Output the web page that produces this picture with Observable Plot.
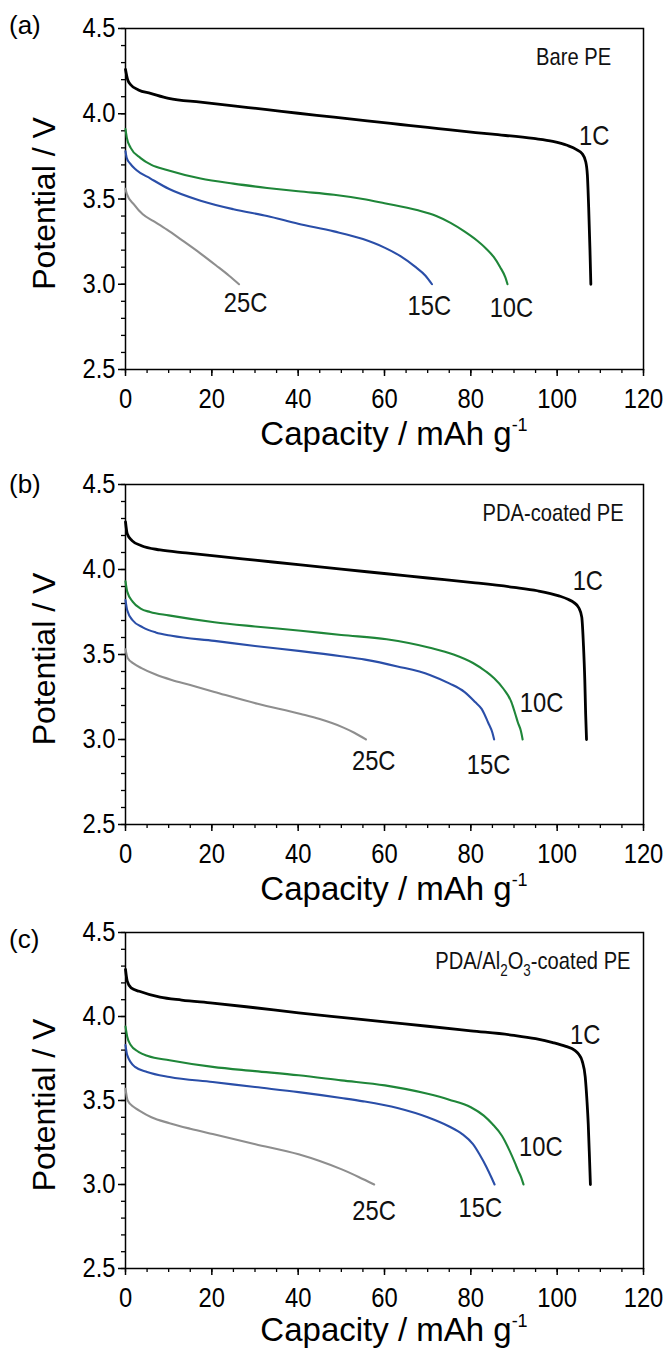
<!DOCTYPE html>
<html><head><meta charset="utf-8">
<script src="https://cdn.jsdelivr.net/npm/d3@7"></script>
<script src="https://cdn.jsdelivr.net/npm/@observablehq/plot@0.6"></script>
<style>
body{margin:0;background:#fff;}
#root{position:relative;width:671px;height:1349px;overflow:hidden;background:#fff;}
.panel{position:absolute;left:0;}
</style></head><body><div id="root"></div>
<script>
// ---- data (capacity mAh/g, potential V) ----
const rates = ["1C", "10C", "15C", "25C"];
const rateColors = ["#000000", "#1f8639", "#2a4ea8", "#8e8e8e"];
const xTicks = [0, 20, 40, 60, 80, 100, 120];
const yTicks = [2.5, 3.0, 3.5, 4.0, 4.5];

const bare1C = [[0,4.26],[0.5,4.2],[1.2,4.17],[3,4.14],[5.8,4.12],[10,4.09],[17.4,4.068],[25,4.046],[32.8,4.024],[40,4.003],[48.3,3.98],[56,3.958],[63.7,3.937],[70,3.92],[75.3,3.905],[85,3.88],[94.5,3.855],[99,3.838],[102.3,3.815],[104.5,3.79],[105.8,3.765],[106.6,3.72],[107,3.64],[107.3,3.45],[107.6,3.2],[107.8,3.0]];
const bare10C = [[0,3.91],[0.3,3.86],[1.2,3.8],[3.5,3.74],[6,3.7],[9.6,3.67],[17.4,3.62],[25,3.59],[32.8,3.565],[40,3.545],[48.3,3.525],[55,3.5],[60,3.475],[67.5,3.435],[72,3.4],[75.3,3.36],[78.5,3.31],[81.5,3.255],[83.5,3.21],[85.3,3.16],[86.8,3.1],[88,3.04],[88.5,3.0]];
const bare15C = [[0,3.78],[0.3,3.74],[1,3.71],[2.5,3.67],[5.8,3.62],[10,3.56],[17.4,3.49],[25,3.44],[32.8,3.4],[40,3.355],[48.3,3.31],[55,3.265],[60,3.215],[63.7,3.165],[67,3.105],[69.5,3.05],[71,3.0]];
const bare25C = [[0,3.56],[0.3,3.53],[1.9,3.47],[4,3.41],[6.5,3.37],[9.6,3.32],[13,3.26],[17.4,3.18],[21,3.11],[24,3.05],[26.3,3.0]];

const pda1C = [[0,4.28],[0.4,4.21],[1.5,4.17],[3.7,4.14],[8,4.115],[14,4.098],[20.6,4.08],[30,4.055],[40.6,4.027],[50,4.002],[60.5,3.975],[70,3.95],[80.5,3.923],[90,3.895],[95.4,3.875],[100.4,3.845],[102.5,3.825],[103.9,3.805],[105,3.775],[105.7,3.72],[106.1,3.55],[106.4,3.35],[106.6,3.15],[106.8,3.0]];
const pda10C = [[0,3.93],[0.4,3.87],[1.7,3.81],[3.5,3.77],[5.7,3.75],[10,3.73],[20.6,3.69],[30,3.665],[40.6,3.64],[50,3.615],[60.5,3.59],[70.5,3.54],[76,3.5],[80.5,3.45],[83.5,3.4],[85.4,3.36],[87.5,3.3],[89.4,3.22],[90.3,3.15],[90.9,3.1],[91.6,3.05],[92,3.0]];
const pda15C = [[0,3.82],[0.4,3.76],[1.7,3.7],[4,3.66],[7,3.63],[10.7,3.61],[20.6,3.58],[30,3.55],[40.6,3.52],[50,3.49],[55.5,3.47],[63,3.43],[70.5,3.38],[75,3.33],[78.5,3.28],[81,3.22],[82.5,3.18],[84,3.1],[85,3.04],[85.4,3.0]];
const pda25C = [[0,3.53],[0.5,3.48],[2,3.445],[3.7,3.42],[7,3.382],[10.7,3.35],[15,3.32],[20.6,3.28],[30.6,3.21],[40.6,3.15],[45,3.12],[50.5,3.07],[53,3.04],[55.7,3.0]];

const alo1C = [[0,4.28],[0.4,4.21],[1.3,4.17],[3.2,4.15],[8,4.115],[13,4.098],[20.2,4.08],[30,4.052],[40.1,4.022],[50,3.995],[60.1,3.968],[70,3.942],[80,3.915],[90,3.888],[95,3.868],[99,3.845],[102,3.822],[104,3.8],[105,3.775],[105.8,3.735],[106.5,3.64],[106.9,3.5],[107.2,3.36],[107.5,3.15],[107.7,3.0]];
const alo10C = [[0,3.94],[0.4,3.88],[1.2,3.83],[3,3.79],[5.2,3.765],[10.2,3.74],[20.2,3.7],[30,3.675],[40.1,3.65],[50,3.62],[60.1,3.59],[70,3.54],[75,3.505],[80,3.46],[83,3.41],[85,3.36],[87.2,3.29],[89,3.2],[90.2,3.13],[91,3.08],[91.7,3.04],[92.2,3.0]];
const alo15C = [[0,3.83],[0.4,3.77],[2.2,3.7],[5,3.67],[10.2,3.64],[20.2,3.61],[30,3.58],[40.1,3.55],[50,3.515],[55.1,3.495],[63,3.455],[70,3.4],[75,3.345],[78,3.3],[80.5,3.24],[82,3.18],[83.7,3.1],[84.8,3.04],[85.5,3.0]];
const alo25C = [[0,3.57],[0.5,3.5],[2,3.46],[3.2,3.44],[6,3.4],[10.2,3.365],[15,3.332],[20.2,3.3],[30.1,3.24],[40.1,3.18],[45,3.14],[50.1,3.09],[54,3.045],[57.6,3.0]];

// rate annotations (capacity, potential) in order 1C,10C,15C,25C
const bareLabelX = [108.6, 89.4, 70.4, 27.8];
const bareLabelY = [3.87, 2.86, 2.87, 2.89];
const pdaLabelX = [107.1, 96.4, 84.1, 57.5];
const pdaLabelY = [3.93, 3.21, 2.85, 2.87];
const aloLabelX = [106.5, 96.2, 82.2, 57.6];
const aloLabelY = [3.89, 3.22, 2.86, 2.84];

const panelLetters = ["(a)", "(b)", "(c)"];
const panelTitles = ["Bare PE", "PDA-coated PE", "PDA/Al2O3-coated PE"];
const panelTitleX = [112.5, 115.4, 117];
const panelTitleY = 4.33;

// ---- layout ----
const W = 671;
const SANS = "'Liberation Sans',Arial,Helvetica,sans-serif";
const layout = [
  {top: 0, height: 455, mt: 28, mb: 86, letterY: 34, titleOff: 76},
  {top: 455, height: 448, mt: 29, mb: 79, letterY: 38, titleOff: 76},
  {top: 903, height: 446, mt: 29, mb: 81, letterY: 45, titleOff: 73}
];
const panelSeries = [
  [bare1C, bare10C, bare15C, bare25C],
  [pda1C, pda10C, pda15C, pda25C],
  [alo1C, alo10C, alo15C, alo25C]
];
const panelLabelX = [bareLabelX, pdaLabelX, aloLabelX];
const panelLabelY = [bareLabelY, pdaLabelY, aloLabelY];

const root = document.getElementById("root");
const ML = 125, MR = 28;

layout.forEach((L, p) => {
  const series = panelSeries[p];
  const labels = rates.map((r, i) => ({t: r, x: panelLabelX[p][i], y: panelLabelY[p][i]}));
  const marks = [
    Plot.axisX({ticks: d3.range(0, 121, 5), tickSize: 4, fill: "none", label: null, strokeWidth: 1.3}),
    Plot.axisY({ticks: d3.range(25, 46, 1).map(d => d / 10), tickSize: 4, fill: "none", label: null, strokeWidth: 1.3}),
    Plot.axisX({ticks: xTicks, tickSize: 7, tickPadding: 12, label: null, fontSize: 27, fontFamily: SANS, strokeWidth: 1.5}),
    Plot.axisY({ticks: yTicks, tickSize: 7, tickPadding: 3, tickFormat: d3.format(".1f"), label: null, fontSize: 27, fontFamily: SANS, strokeWidth: 1.5}),
    Plot.frame({stroke: "#000", strokeWidth: 1.5}),
    ...series.slice().reverse().map((s, j) => {
      const i = series.length - 1 - j;
      return Plot.line(s, {x: d => d[0], y: d => d[1], stroke: rateColors[i], strokeWidth: i === 0 ? 2.8 : 2.1, curve: "monotone-x"});
    }),
    Plot.text(labels, {x: "x", y: "y", text: "t", fontSize: 27, fontFamily: SANS, fill: "#111"}),
    Plot.text([panelTitles[p]], {x: () => panelTitleX[p], y: () => panelTitleY, text: d => d, textAnchor: "end", fontSize: 24, fontFamily: SANS, fill: "#111"})
  ];
  const svg = Plot.plot({
    width: W, height: L.height,
    marginLeft: ML, marginRight: MR, marginTop: L.mt, marginBottom: L.mb,
    x: {domain: [0, 120]},
    y: {domain: [2.5, 4.5]},
    style: {fontFamily: SANS, fontSize: "22px", color: "#000", background: "transparent", overflow: "visible"},
    marks
  });
  const s = d3.select(svg);
  // condense the narrow-style labels (ticks, rate labels, panel title)
  s.selectAll("text").each(function() {
    const el = d3.select(this);
    let tr = el.attr("transform");
    if (!tr) {
      const x = +(el.attr("x") || 0), y = +(el.attr("y") || 0);
      el.attr("x", null).attr("y", null);
      tr = `translate(${x},${y})`;
    }
    const txt = this.textContent;
    const isTitle = panelTitles.includes(txt);
    if (/^\d+(\.\d)?$/.test(txt)) el.style("font-size", "27px").style("font-family", SANS);
    el.attr("transform", tr + ` scale(${isTitle ? 0.84 : 0.88},1)`);
  });
  // subscripts in Al2O3 title
  s.selectAll("text").filter(function() { return this.textContent === "PDA/Al2O3-coated PE"; })
    .each(function() {
      const t = d3.select(this);
      const tgt = t.select("tspan").empty() ? t : t.select("tspan");
      tgt.text(null);
      tgt.append("tspan").text("PDA/Al");
      tgt.append("tspan").attr("dy", 7).attr("font-size", 16).text("2");
      tgt.append("tspan").attr("dy", -7).text("O");
      tgt.append("tspan").attr("dy", 7).attr("font-size", 16).text("3");
      tgt.append("tspan").attr("dy", -7).text("-coated PE");
    });
  const frameBottom = L.height - L.mb;
  const cx = (ML + W - MR) / 2;
  // x-axis title with superscript
  const xt = s.append("text").attr("x", cx + 10).attr("y", frameBottom + L.titleOff)
    .attr("text-anchor", "middle").attr("font-family", SANS).attr("font-size", 33).attr("fill", "#000");
  xt.append("tspan").text("Capacity / mAh g");
  xt.append("tspan").attr("dy", -14).attr("font-size", 18).text("-1");
  // y-axis title
  const cy = (L.mt + frameBottom) / 2 + 5;
  s.append("text").attr("transform", `translate(44,${cy}) rotate(-90)`)
    .attr("text-anchor", "middle").attr("dy", "0.35em").attr("font-family", SANS).attr("font-size", 32).attr("fill", "#000")
    .text("Potential / V");
  // panel letter
  s.append("text").attr("x", 9).attr("y", L.letterY).attr("text-anchor", "start")
    .attr("font-family", SANS).attr("font-size", 26).attr("fill", "#000")
    .text(panelLetters[p]);
  const div = document.createElement("div");
  div.className = "panel";
  div.style.top = L.top + "px";
  div.appendChild(svg);
  root.appendChild(div);
});
</script></body></html>
